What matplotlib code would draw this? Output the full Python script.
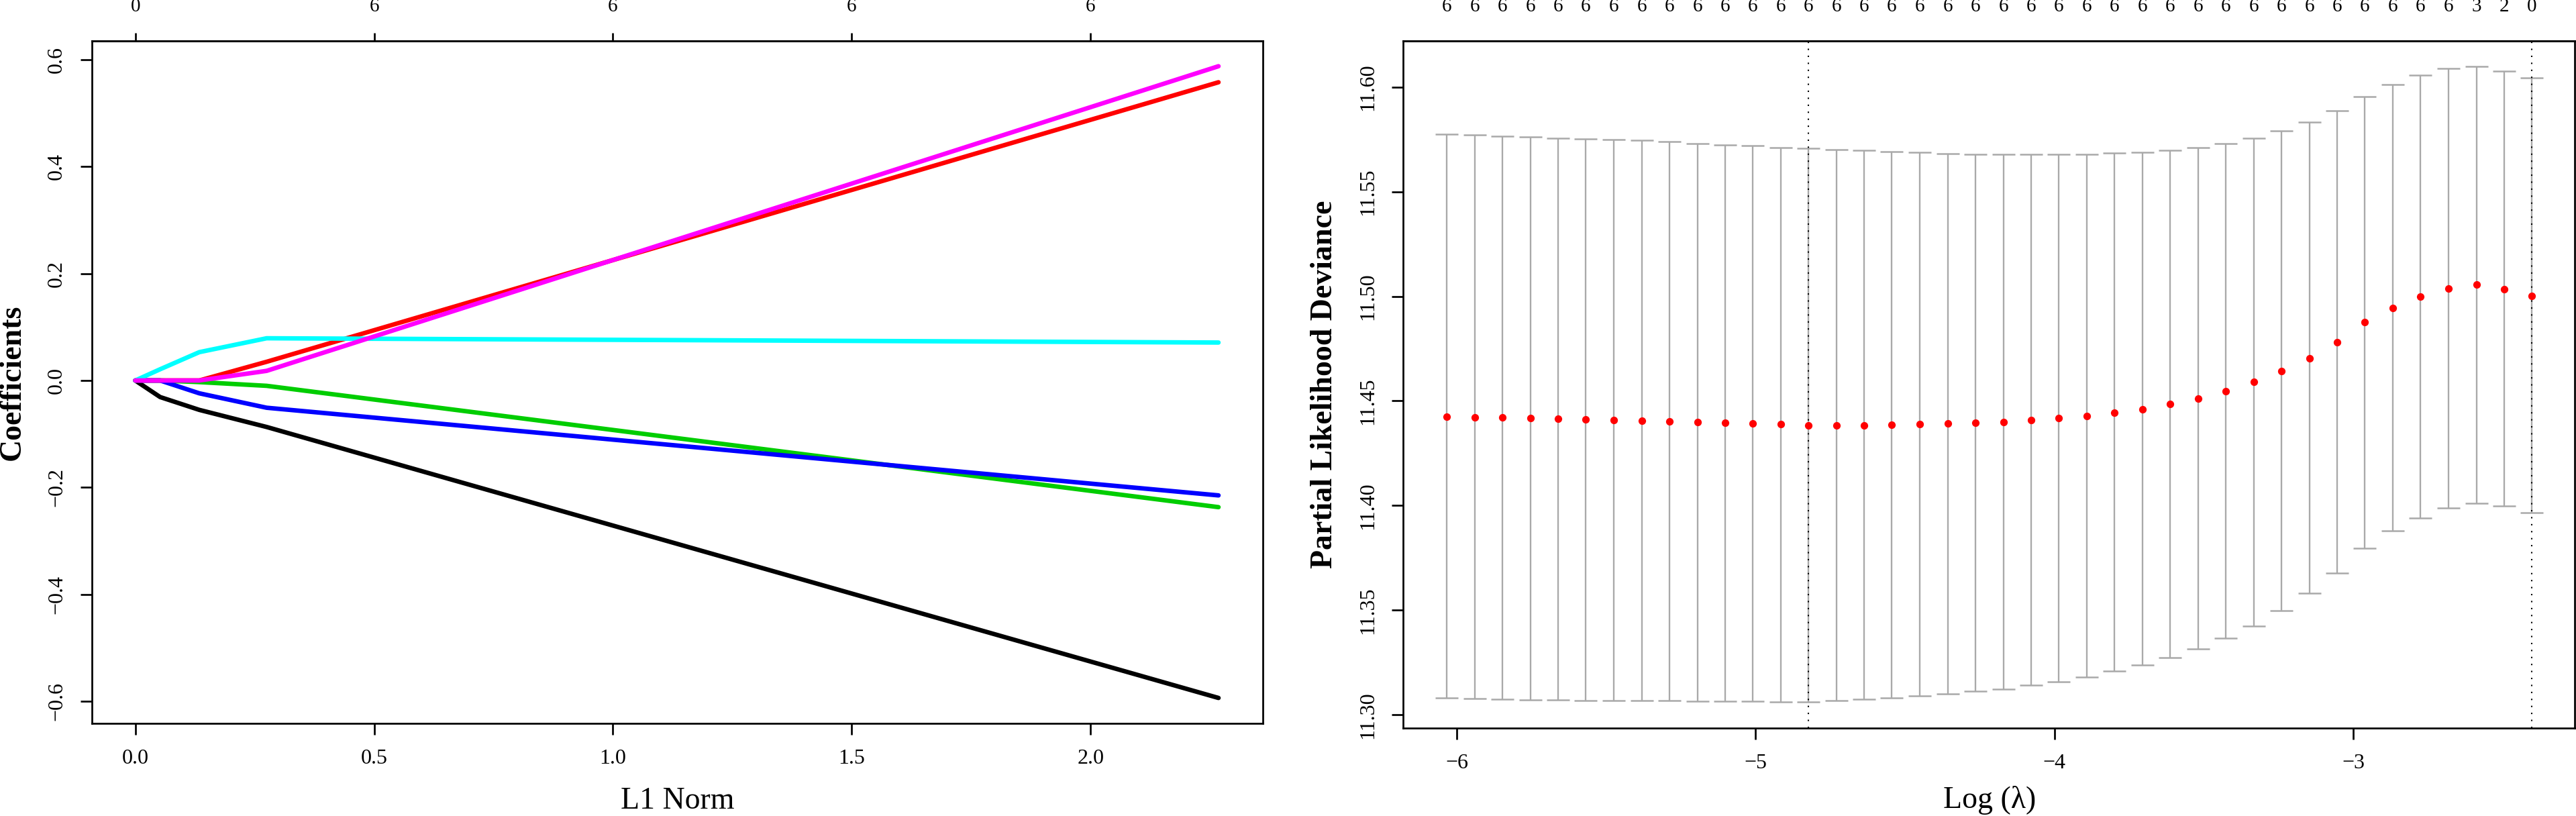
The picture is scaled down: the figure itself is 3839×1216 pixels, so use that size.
import numpy as np
import matplotlib
matplotlib.use("Agg")
import matplotlib.pyplot as plt

plt.rcParams['font.family'] = ['Liberation Serif', 'DejaVu Serif']

# ---- left panel: coefficient paths vs L1 norm ----
l1_norm = [0.0, 0.052, 0.134, 0.275, 2.268]
coef_paths = {
    'black':   [0.0, -0.031, -0.055, -0.087, -0.594],
    'red':     [0.0, 0.0, 0.0, 0.035, 0.558],
    '#00CD00': [0.0, 0.0, -0.003, -0.010, -0.237],
    'blue':    [0.0, 0.0, -0.024, -0.051, -0.215],
    'cyan':    [0.0, 0.021, 0.053, 0.079, 0.071],
    'magenta': [0.0, 0.0, 0.0, 0.018, 0.588],
}
l1_ticks = [0.0, 0.5, 1.0, 1.5, 2.0]
l1_top_labels = ['0', '6', '6', '6', '6']

# ---- right panel: cross-validation curve ----
log_lambda = [-6.033, -5.940, -5.847, -5.754, -5.661, -5.568, -5.475, -5.381,
              -5.288, -5.195, -5.102, -5.009, -4.916, -4.823, -4.730, -4.637,
              -4.544, -4.450, -4.357, -4.264, -4.171, -4.078, -3.985, -3.892,
              -3.799, -3.706, -3.613, -3.519, -3.426, -3.333, -3.240, -3.147,
              -3.054, -2.961, -2.868, -2.775, -2.682, -2.588, -2.495, -2.402]
cv_mean = [11.4425, 11.4423, 11.4420, 11.4418, 11.4415, 11.4413, 11.4410, 11.4405,
           11.4403, 11.4398, 11.4396, 11.4391, 11.4388, 11.4382, 11.4383, 11.4383,
           11.4386, 11.4388, 11.4391, 11.4396, 11.4400, 11.4408, 11.4418, 11.4428,
           11.4443, 11.4460, 11.4485, 11.4512, 11.4547, 11.4590, 11.4642, 11.4704,
           11.4781, 11.4876, 11.4943, 11.4998, 11.5037, 11.5055, 11.5035, 11.5002]
cv_upper = [11.5774, 11.5771, 11.5766, 11.5761, 11.5756, 11.5751, 11.5749, 11.5744,
            11.5739, 11.5731, 11.5724, 11.5719, 11.5711, 11.5706, 11.5701, 11.5697,
            11.5692, 11.5689, 11.5682, 11.5679, 11.5677, 11.5677, 11.5677, 11.5679,
            11.5684, 11.5689, 11.5697, 11.5709, 11.5729, 11.5756, 11.5789, 11.5831,
            11.5888, 11.5955, 11.6013, 11.6058, 11.6087, 11.6099, 11.6077, 11.6045]
cv_lower = [11.3080, 11.3077, 11.3075, 11.3072, 11.3072, 11.3070, 11.3070, 11.3067,
            11.3067, 11.3065, 11.3065, 11.3065, 11.3062, 11.3062, 11.3067, 11.3075,
            11.3082, 11.3092, 11.3100, 11.3112, 11.3124, 11.3142, 11.3159, 11.3182,
            11.3209, 11.3239, 11.3274, 11.3316, 11.3366, 11.3425, 11.3498, 11.3582,
            11.3679, 11.3796, 11.3878, 11.3940, 11.3988, 11.4010, 11.3998, 11.3965]
nonzero = ['6'] * 37 + ['3', '2', '0']
lambda_min = -4.823
lambda_1se = -2.402
loglam_ticks = [-6, -5, -4, -3]
dev_ticks = [11.30, 11.35, 11.40, 11.45, 11.50, 11.55, 11.60]

W, H = 3839, 1216
fig = plt.figure(figsize=(W / 300, H / 300), dpi=300)

tick_fs = 7.7
top_fs = 7.0
lab_fs = 11


def style_axes(ax):
    for s in ax.spines.values():
        s.set_linewidth(0.65)
        s.set_color('black')
    ax.tick_params(direction='out', length=4.1, width=0.65, labelsize=tick_fs, pad=5)
    for lab in ax.get_yticklabels():
        lab.set_rotation(90)
        lab.set_va('center')


def minus(v, fmt):
    return (fmt % v).replace('-', '\u2212')


# left panel
ax1 = fig.add_axes([137 / W, 1 - 1078 / H, (1882 - 137) / W, (1078 - 61) / H])
for col, vals in coef_paths.items():
    ax1.plot(l1_norm, vals, color=col, lw=1.6, solid_capstyle='round', solid_joinstyle='round')
ax1.set_xlim(-0.0908, 2.3608)
ax1.set_ylim(-0.6416, 0.6353)
ax1.set_xticks(l1_ticks, [minus(v, '%.1f') for v in l1_ticks])
yt = [-0.6, -0.4, -0.2, 0.0, 0.2, 0.4, 0.6]
ax1.set_yticks(yt, [minus(v, '%.1f') for v in yt])
style_axes(ax1)
top1 = ax1.secondary_xaxis('top')
top1.set_xticks(l1_ticks, l1_top_labels)
top1.tick_params(direction='out', length=2.9, width=0.65, labelsize=top_fs, pad=6.3)
top1.spines['top'].set_linewidth(0.65)

# right panel
ax2 = fig.add_axes([2091 / W, 1 - 1085 / H, (3837 - 2091) / W, (1085 - 61) / H])
m = np.array(cv_mean)
yerr = np.vstack([m - np.array(cv_lower), np.array(cv_upper) - m])
ax2.errorbar(log_lambda, cv_mean, yerr=yerr, fmt='none', ecolor='darkgrey',
             elinewidth=0.56, capsize=4.1, capthick=0.6, zorder=2)
ax2.plot(log_lambda, cv_mean, 'o', color='red', ms=2.7, mec='none', zorder=4)
for v in (lambda_min, lambda_1se):
    ax2.axvline(v, color='black', lw=0.5, ls=(0, (1, 4)), zorder=3)
ax2.set_xlim(-6.1796, -2.2593)
ax2.set_ylim(11.2937, 11.622)
ax2.set_xticks(loglam_ticks, [minus(v, '%d') for v in loglam_ticks])
ax2.set_yticks(dev_ticks, ['%.2f' % v for v in dev_ticks])
style_axes(ax2)
top2 = ax2.secondary_xaxis('top')
top2.set_xticks(log_lambda, nonzero)
top2.tick_params(length=0, labelsize=top_fs, pad=9.2)
top2.spines['top'].set_linewidth(0.65)

# axis titles
fig.text(1010 / W, 1 - 1205 / H, 'L1 Norm', ha='center', va='baseline', fontsize=lab_fs)
fig.text(2965 / W, 1 - 1204 / H, 'Log (\u03bb)', ha='center', va='baseline', fontsize=lab_fs)
fig.text(19 / W, 1 - 570 / H, 'Coefficients', rotation=90, ha='center', va='center',
         fontsize=lab_fs, fontweight='bold')
fig.text(1974 / W, 1 - 573 / H, 'Partial Likelihood Deviance', rotation=90, ha='center',
         va='center', fontsize=lab_fs, fontweight='bold')

fig.savefig('out.png', dpi=300)
